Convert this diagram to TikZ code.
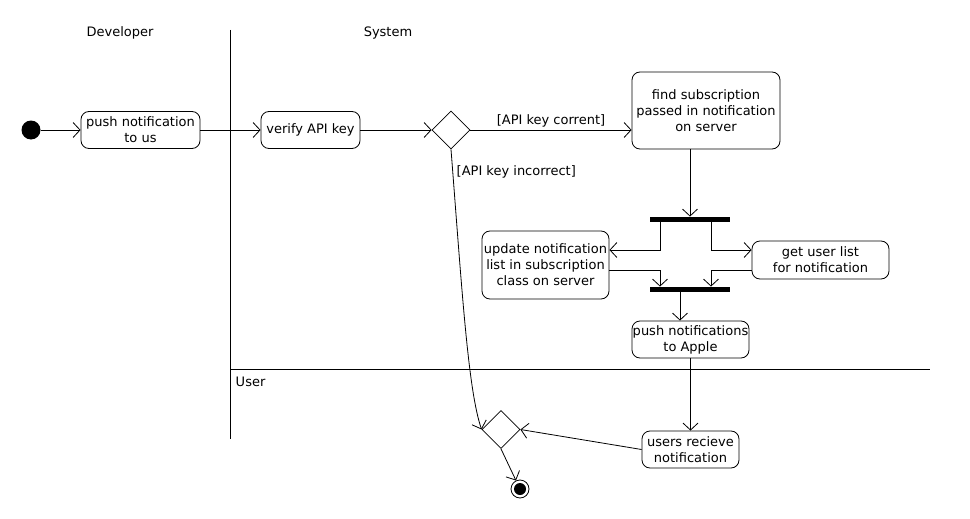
\documentclass[tikz,border=0pt]{standalone}
\usepackage{fontspec}
\setmainfont{DejaVu Sans}
\usetikzlibrary{arrows.meta,shapes.geometric}
\begin{document}
\begin{tikzpicture}[x=1pt,y=-1pt,
  font=\fontsize{13}{16}\selectfont,
  line width=0.8pt,
  act/.style={draw, rounded corners=8pt, inner sep=0pt, align=center},
  bar/.style={fill=black, inner sep=0pt, minimum width=80pt, minimum height=5pt},
  dec/.style={draw, diamond, aspect=1, inner sep=0pt, minimum width=38pt, minimum height=38pt},
  flow/.style={-{Straight Barb[length=7pt,width=15pt,line width=0.8pt]}},
  lane/.style={line width=0.9pt}]
\useasboundingbox (0,0) rectangle (970,519);
% swimlanes
\coordinate (lt) at (230,30);
\coordinate (lb) at (230,439);
\coordinate (hl) at (230,369);
\coordinate (hr) at (930,369);
\draw[lane] (lt) -- (lb);
\draw[lane] (hl) -- (hr);
\node (dev) at (120,33) {Developer};
\node (sys) at (388,33) {System};
\node[anchor=west] (usr) at (232,382) {User};
% nodes
\node[circle, fill=black, minimum size=19pt, inner sep=0pt] (init) at (31,130) {};
\node[act, minimum width=119pt, minimum height=37pt] (push) at (140.5,130) {push notification\\to us};
\node[act, minimum width=99pt, minimum height=37pt] (verify) at (310.5,130) {verify API key};
\node[dec] (d1) at (451,130) {};
\node[act, minimum width=148pt, minimum height=77pt] (find) at (706,110.5) {find subscription\\passed in notification\\on server};
\node[bar] (fork) at (690,219.5) {};
\node[bar] (join) at (690,289.5) {};
\node[act, minimum width=127pt, minimum height=68pt] (update) at (545.5,265) {update notification\\list in subscription\\class on server};
\node[act, minimum width=137pt, minimum height=38pt] (users) at (820.5,260) {get user list\\for notification};
\node[act, minimum width=117pt, minimum height=37pt] (apple) at (690.5,339.5) {push notifications\\to Apple};
\node[act, minimum width=97pt, minimum height=37pt] (recv) at (690.5,449.5) {users recieve\\notification};
\node[dec] (d2) at (501,429.5) {};
\node[circle, draw, line width=0.8pt, minimum size=18pt, inner sep=0pt] (fin) at (520,489) {};
\fill (fin.center) circle (6pt);
% connectors
\draw[flow] (init) -- (push);
\draw[flow] (push) -- (verify);
\draw[flow] (verify) -- (d1.west);
\draw[flow] (d1.east) -- node[above, yshift=-1pt] (lc) {[API key corrent]} (find.west |- d1.east);
\draw[flow] (find.south -| fork.north) -- (fork.north);
\draw[flow] ([xshift=-30pt]fork.south) |- ([yshift=15pt]update.east);
\draw[flow] ([xshift=21pt]fork.south) |- ([yshift=10pt]users.west);
\draw[flow] ([yshift=-5pt]update.east) -| ([xshift=-30pt]join.north);
\draw[flow] ([yshift=-10pt]users.west) -| ([xshift=21pt]join.north);
\draw[flow] ([xshift=-10pt]join.south) -- ([xshift=-10pt]join.south |- apple.north);
\draw[flow] (apple.south) -- (recv.north);
\draw[flow] (recv.west) -- (d2.east);
\draw[flow] (d1.south) .. controls (462,290) and (468,390) .. (d2.west);
\node[anchor=west] (li) at (453,172) {[API key incorrect]};
\draw[flow] (d2.south) -- (fin);
\end{tikzpicture}
\end{document}
